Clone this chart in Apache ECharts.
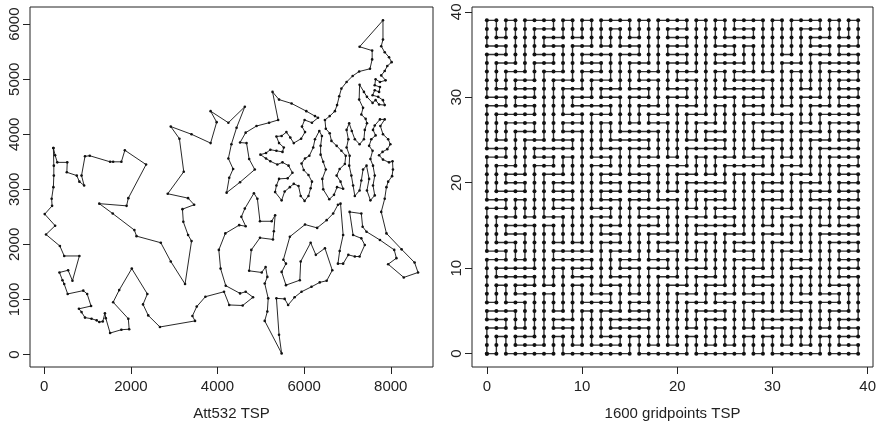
<!DOCTYPE html>
<html><head><meta charset="utf-8">
<script src="https://cdn.jsdelivr.net/npm/echarts@6/dist/echarts.min.js"></script>
<style>html,body{margin:0;padding:0;background:#fff}#c{width:881px;height:426px}</style>
</head><body><div id="c"></div>
<script>
// ---- Att532 tour (in visiting order) ----
const tourX = [
210,250,300,530,520,750,810,920,860,940,1050,1520,1590,1780,1860,2350,1940,1900,1270,1580,2080,2130,2690,2920,3250,3400,3320,3210,3190,3460,3320,2850,3220,3120,2920,3400,3840,3980,3840,4250,4630,4440,4320,4250,4360,4270,4210,4520,4860,4730,4670,4520,4650,4900,5190,5400,5270,5420,5710,6050,6250,6320,
6180,6010,5950,6020,5930,5760,5680,5590,5480,5360,5420,5530,5500,5360,5220,5120,4990,5120,5220,5380,5500,5640,5730,5620,5420,5360,5330,5480,5550,5670,5760,5870,5920,6010,6100,6150,6180,6100,5990,5940,6020,6120,6210,6250,6350,6410,6380,6380,6440,6500,6420,6440,6580,6690,6760,6900,6840,6750,6820,6940,6960,6860,6750,6630,6590,6500,6480,6590,6710,
6760,6810,6860,6980,7120,7270,7520,7570,7570,7280,7820,
7820,7780,7860,7960,8020,7920,7860,7780,7880,7750,7650,7630,7750,7730,7630,7580,7710,7820,7860,7730,7650,7580,7450,7380,7280,7270,7360,7320,7420,7450,
7400,7380,7280,7170,7100,7040,6980,7020,6980,7050,7040,7090,7130,7170,7280,7320,7360,7440,7500,7450,7530,7630,7590,7630,7590,7530,7580,7500,7550,7650,7590,7630,7750,7860,7760,7820,7940,7990,7920,7810,7730,7820,7960,8040,8050,8030,7940,7900,7860,7780,
7900,8250,8550,8630,8300,7940,8130,8080,7750,7440,7350,7320,7050,7130,7320,7400,7280,7170,7020,6900,6780,6820,6900,6840,6780,6670,6520,6300,6020,5670,5520,5580,5480,5580,5900,5920,6150,6270,6480,6650,6520,6360,6170,5940,5780,5630,5550,5360,5420,5480,
5090,5150,5170,5090,5150,5110,5020,4730,4780,4980,5280,5300,5330,5250,4980,4920,4840,4630,4550,4650,4500,4180,4030,4070,4190,4520,4650,4820,4580,4270,4150,3720,3520,3420,3480,2670,2400,2280,2380,2020,1730,1590,1940,1960,1780,1520,1420,1400,1350,1270,1210,1090,940,860,800,1080,990,900,540,460,420,350,550,650,810,460,360,40,250,10,180,170,210,220,220
];
const tourY = [
3750,3620,3490,3490,3310,3250,3140,3070,3250,3600,3610,3500,3500,3500,3710,3450,2840,2700,2740,2560,2260,2150,2030,1690,1280,2060,2170,2410,2640,2720,2840,2920,3320,3920,4140,4000,3840,4220,4420,4210,4500,4120,3820,3560,3370,3210,2940,3130,3360,3550,3840,3850,4030,4150,4210,4260,4770,4630,4560,4420,4330,4300,
4210,4260,4140,4040,3920,3840,3940,4040,3970,3960,3840,3760,3680,3700,3720,3660,3630,3560,3510,3450,3490,3430,3300,3200,3190,3070,2950,2800,2960,3040,3100,3060,2880,2790,2880,3020,3140,3260,3350,3470,3560,3610,3760,3910,4060,3970,3790,3630,3500,3360,3190,3000,2820,2900,3040,3010,3140,3250,3370,3460,3610,3700,3790,3880,4020,4100,4260,4330,4420,
4530,4690,4830,4950,5060,5140,5190,5360,5520,5590,6070,
5720,5600,5490,5400,5310,5240,5150,5070,4980,4950,5000,4890,4860,4770,4800,4710,4680,4620,4530,4540,4620,4570,4680,4770,4900,4630,4480,4360,4280,4200,
4080,3910,3820,3910,4060,4200,4080,3910,3760,3610,3430,3250,3070,2880,2980,3160,3360,3430,3190,2980,2800,2890,3070,3250,3430,3550,3700,3790,3910,3980,4080,4160,4270,4270,4150,4000,3910,3820,3730,3680,3620,3540,3490,3510,3360,3240,3140,3040,2830,2590,
2200,1910,1670,1490,1400,1640,1750,1900,2080,2230,2320,2560,2590,2170,2110,1990,1780,1780,1810,1650,1650,1880,2170,2740,2720,2560,2440,2300,2360,2140,1720,1650,1500,1260,1350,1690,2030,1810,1930,1530,1340,1310,1230,1140,1040,900,1010,1020,360,20,
610,780,1020,1290,1410,1590,1490,1520,1900,2120,2090,2240,2530,2420,2420,2830,2930,2650,2500,2330,2350,2200,1900,1560,1250,1110,1140,1040,890,900,1140,1050,870,700,610,500,710,910,1100,1560,1170,950,650,460,450,390,660,750,600,590,620,650,670,770,830,880,1100,1160,1100,1280,1350,1490,1530,1340,1790,1790,1970,2180,2340,2550,2700,2830,3040,3250,3430
];
const attXTicks = [0, 2000, 4000, 6000, 8000];
const attYTicks = [0, 1000, 2000, 3000, 4000, 5000, 6000];

// ---- 1600 gridpoints (40 x 40) tour: cell-tree directions (2x2 blocks), row 0 = bottom ----
const gridTree = [
  "UULUUURUULUURUUUULUL",
  "RULDLURDLURLDRULDRUL",
  "RDURLDRULDURLURDLURL",
  "URLDURLULDRURDLURDLU",
  "RDLURDRLURLDLURLDURL",
  "RULRDLURDLRUDRLURLDL",
  "RDURULDLURDLURDRLURL",
  "URLDLURDRLURDLULDRUL",
  "RLURDRLURDULRDURLDLL",
  "RDLULDRULRDRLURLURDL",
  "URDRLURDLURULDRUDLUL",
  "RLULDRLURDLDRULRLDRL",
  "RDRULURDLURULDRDURLL",
  "URLDRLDRULDRLURLULDL",
  "RULURDLURDRLDULRDRUL",
  "RDLDRURDLULURDLURLDL",
  "URURLDLURDRLDRULDURL",
  "RLDLURDRLULDRLURLDLL",
  "RDURDLURDRLURDLDURDL",
  "DDDLDDRDDDLDDRDDDLDD"
];
const gridTicks = [0, 10, 20, 30, 40];
const titles = ['Att532 TSP', '1600 gridpoints TSP'];

function buildGridTour(rows) {
  const n = rows.length, N = 2 * n;
  const parent = Array.from({length: n * n}, (_, i) => i);
  const find = a => parent[a] === a ? a : (parent[a] = find(parent[a]));
  const link = new Set();
  function tryLink(i, j, d) {
    let ni = i, nj = j;
    if (d === 'L') ni--; else if (d === 'R') ni++; else if (d === 'U') nj++; else if (d === 'D') nj--; else return;
    if (ni < 0 || nj < 0 || ni >= n || nj >= n) return;
    const a = find(j * n + i), b = find(nj * n + ni);
    if (a === b) return;
    parent[a] = b;
    if (d === 'L') link.add('h' + ni + ',' + nj);
    else if (d === 'R') link.add('h' + i + ',' + j);
    else if (d === 'D') link.add('v' + ni + ',' + nj);
    else link.add('v' + i + ',' + j);
  }
  for (let j = 0; j < n; j++) for (let i = 0; i < n; i++) tryLink(i, j, rows[j][i]);
  for (let j = 0; j < n; j++) for (let i = 0; i < n; i++) { tryLink(i, j, 'U'); tryLink(i, j, 'R'); }
  const adj = Array.from({length: N * N}, () => []);
  const id = (x, y) => y * N + x;
  const add = (p, q) => { adj[p].push(q); adj[q].push(p); };
  for (let j = 0; j < n; j++) for (let i = 0; i < n; i++) {
    const BL = id(2*i, 2*j), BR = id(2*i+1, 2*j), TL = id(2*i, 2*j+1), TR = id(2*i+1, 2*j+1);
    if (!(j > 0 && link.has('v' + i + ',' + (j-1)))) add(BL, BR);
    if (j < n-1 && link.has('v' + i + ',' + j)) { add(TL, id(2*i, 2*j+2)); add(TR, id(2*i+1, 2*j+2)); } else add(TL, TR);
    if (!(i > 0 && link.has('h' + (i-1) + ',' + j))) add(BL, TL);
    if (i < n-1 && link.has('h' + i + ',' + j)) { add(BR, id(2*i+2, 2*j)); add(TR, id(2*i+2, 2*j+1)); } else add(BR, TR);
  }
  const out = [];
  let prev = -1, cur = 0;
  for (let k = 0; k <= N * N; k++) {
    out.push([cur % N, Math.floor(cur / N)]);
    const nx = adj[cur][0] !== prev ? adj[cur][0] : adj[cur][1];
    prev = cur; cur = nx;
    if (cur === 0) { out.push([0, 0]); break; }
  }
  return out;
}

const attData = tourX.map((x, i) => [x, tourY[i]]);
attData.push([tourX[0], tourY[0]]);
const gridData = buildGridTour(gridTree);

const font = '"Liberation Sans", Arial, Helvetica, sans-serif';
const txt = '#222';
const plain = v => String(v);
function xAx(gi, min, max, ticks, name) {
  return {
    gridIndex: gi, type: 'value', min: min, max: max,
    axisLine: {show: false, onZero: false}, splitLine: {show: false},
    axisTick: {show: true, inside: false, length: 7, customValues: ticks, lineStyle: {color: '#222', width: 1}},
    axisLabel: {customValues: ticks, formatter: plain, margin: 12, fontSize: 15, color: txt, fontFamily: font},
    name: name, nameLocation: 'middle', nameGap: 39,
    nameTextStyle: {fontSize: 15, color: txt, fontFamily: font}
  };
}
function yAx(gi, min, max, ticks) {
  return {
    gridIndex: gi, type: 'value', min: min, max: max,
    axisLine: {show: false, onZero: false}, splitLine: {show: false},
    axisTick: {show: true, inside: false, length: 7, customValues: ticks, lineStyle: {color: '#222', width: 1}},
    axisLabel: {customValues: ticks, formatter: plain, margin: 8, rotate: 90, fontSize: 15, color: txt, fontFamily: font}
  };
}

const chart = echarts.init(document.getElementById('c'));
chart.setOption({
  animation: false,
  backgroundColor: '#fff',
  grid: [
    {left: 30, top: 7, width: 403, height: 362, show: true, borderColor: '#222', borderWidth: 1, backgroundColor: 'transparent'},
    {left: 472, top: 7, width: 401, height: 362, show: true, borderColor: '#222', borderWidth: 1, backgroundColor: 'transparent'}
  ],
  xAxis: [xAx(0, -330, 8975, attXTicks, titles[0]), xAx(1, -1.56, 40.56, gridTicks, titles[1])],
  yAxis: [yAx(0, -227, 6312, attYTicks), yAx(1, -1.56, 40.56, gridTicks)],
  series: [
    {type: 'line', xAxisIndex: 0, yAxisIndex: 0, data: attData, symbol: 'circle', symbolSize: 2.6,
     showSymbol: true, itemStyle: {color: '#111'}, lineStyle: {color: '#111', width: 0.9}, silent: true},
    {type: 'line', xAxisIndex: 1, yAxisIndex: 1, data: gridData, symbol: 'circle', symbolSize: 4,
     showSymbol: true, itemStyle: {color: '#111'}, lineStyle: {color: '#333', width: 1.4}, silent: true}
  ]
});
</script>
</body></html>
